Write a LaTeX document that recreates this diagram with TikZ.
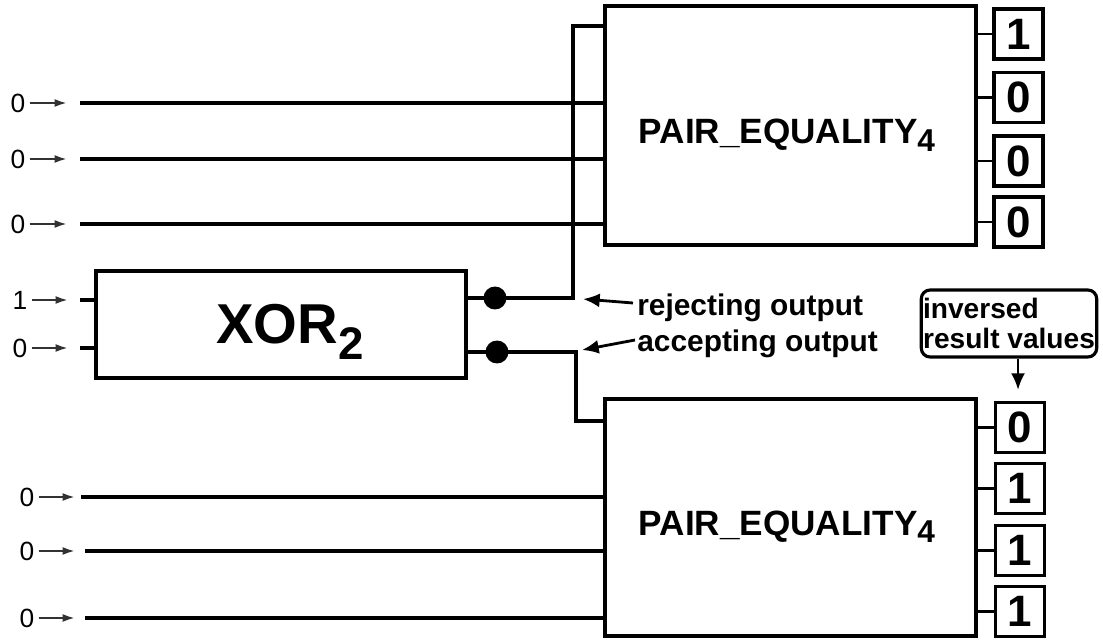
\documentclass[tikz,border=0pt]{standalone}
\usepackage{fontspec}
\setmainfont{Liberation Sans}
\usetikzlibrary{positioning, arrows.meta, calc}
\definecolor{wiregray}{RGB}{50,50,50}

\tikzset{
  blockbox/.style={draw, line width=2pt, inner sep=0pt},
  bitbox/.style={draw, line width=2pt, minimum width=0.98cm, minimum height=1cm, inner sep=0pt, font=\fontsize{25}{25}\selectfont\bfseries},
  wire/.style={line width=2.2pt},
  stub/.style={line width=1.3pt},
  dot/.style={circle, fill=black, inner sep=0pt, minimum size=0.46cm},
  inlabel/.style={font=\fontsize{15}{15}\selectfont, inner sep=0pt, outer sep=2.5pt},
  inarrow/.style={wiregray, line width=1.2pt, -{Latex[length=7pt,width=4.5pt]}},
  note/.style={font=\fontsize{17}{17}\selectfont\bfseries, inner sep=0pt, anchor=base west},
  notearrow/.style={line width=1.6pt, -{Latex[length=9.5pt,width=8pt]}},
  callout/.style={draw, line width=1.8pt, rounded corners=5pt, minimum width=3.44cm, minimum height=1.34cm, inner xsep=1pt, align=left, font=\fontsize{16}{17}\selectfont\bfseries},
}

\begin{document}
\begin{tikzpicture}[x=0.02cm, y=-0.02cm]
  \useasboundingbox (0,0) rectangle (1103,642);

  % blocks
  \node[blockbox, minimum width=7.42cm, minimum height=4.78cm] (pe1) at (790.5,125.5) {};
  \node[blockbox, minimum width=7.42cm, minimum height=4.74cm] (pe2) at (790.5,517.5) {};
  \node[blockbox, minimum width=7.4cm, minimum height=2.14cm] (xor) at (281,324.5) {};
  \node[anchor=base, inner sep=0pt, font=\fontsize{20}{20}\selectfont\bfseries] (pe1lbl) at (787,144)
    {PAIR\_EQUALITY\raisebox{-4pt}{\fontsize{18}{18}\selectfont 4}};
  \node[anchor=base, inner sep=0pt, font=\fontsize{20}{20}\selectfont\bfseries] (pe2lbl) at (787,535)
    {PAIR\_EQUALITY\raisebox{-4pt}{\fontsize{18}{18}\selectfont 4}};
  \node[anchor=base, inner sep=0pt, font=\fontsize{32}{32}\selectfont\bfseries] (xorlbl) at (290,343)
    {XOR\raisebox{-9.5pt}{\fontsize{26}{26}\selectfont 2}};

  % inputs of the upper block
  \foreach \y [count=\i] in {103,159,224} {
    \node[inlabel] (tin\i) at (18,\y) {0};
    \coordinate (ttip\i) at (67,\y);
    \coordinate (tstart\i) at (80,\y);
    \draw[inarrow] (tin\i) -- (ttip\i);
    \draw[wire] (tstart\i) -- (tstart\i -| pe1.west);
  }

  % inputs of the xor
  \foreach \y/\v [count=\i] in {300/1,348/0} {
    \node[inlabel] (xin\i) at (20,\y) {\v};
    \coordinate (xtip\i) at (68,\y);
    \coordinate (xstart\i) at (80,\y);
    \draw[inarrow] (xin\i) -- (xtip\i);
    \draw[wire] (xstart\i) -- (xstart\i -| xor.west);
  }

  % inputs of the lower block
  \foreach \y/\s [count=\i] in {497/81,551/85,618/85} {
    \node[inlabel] (bin\i) at (27,\y) {0};
    \coordinate (btip\i) at (75,\y);
    \coordinate (bstart\i) at (\s,\y);
    \draw[inarrow] (bin\i) -- (btip\i);
    \draw[wire] (bstart\i) -- (bstart\i -| pe2.west);
  }

  % xor outputs
  \node[dot] (rjdot) at (495,298) {};
  \node[dot] (acdot) at (497,352) {};
  \coordinate (rjbend) at (573,298);
  \coordinate (acbend) at (576,352);
  \coordinate (rjin) at ($(pe1.north west)+(0,22)$);
  \coordinate (acin) at ($(pe2.north west)+(0,24)$);
  \draw[wire] (xor.east |- rjdot) -- (rjbend) |- (rjin);
  \draw[wire] (xor.east |- acdot) -- (acbend) |- (acin);

  % output names
  \node[note] (rjtxt) at (637,315) {rejecting output};
  \node[note] (actxt) at (637,351) {accepting output};
  \coordinate (rjtail) at (633,303);
  \coordinate (rjtip) at (583,299);
  \coordinate (actail) at (635,340);
  \coordinate (actip) at (582,350);
  \draw[notearrow] (rjtail) -- (rjtip);
  \draw[notearrow] (actail) -- (actip);

  % result bits
  \foreach \y/\v [count=\i] in {34/1,97.5/0,161/0,222/0} {
    \node[bitbox] (tb\i) at (1018.5,\y) {\v};
    \draw[stub] (pe1.east |- tb\i) -- (tb\i);
  }
  \foreach \y/\v [count=\i] in {427.5/0,488.5/1,550.5/1,611.5/1} {
    \node[bitbox] (bb\i) at (1020,\y) {\v};
    \draw[stub] (pe2.east |- bb\i) -- (bb\i);
  }

  % callout
  \node[callout] (inv) at (1009,323.5) {inversed\\result values};
  \coordinate (invtip) at (1018,390);
  \draw[notearrow] (inv.south -| invtip) -- (invtip);
\end{tikzpicture}
\end{document}
